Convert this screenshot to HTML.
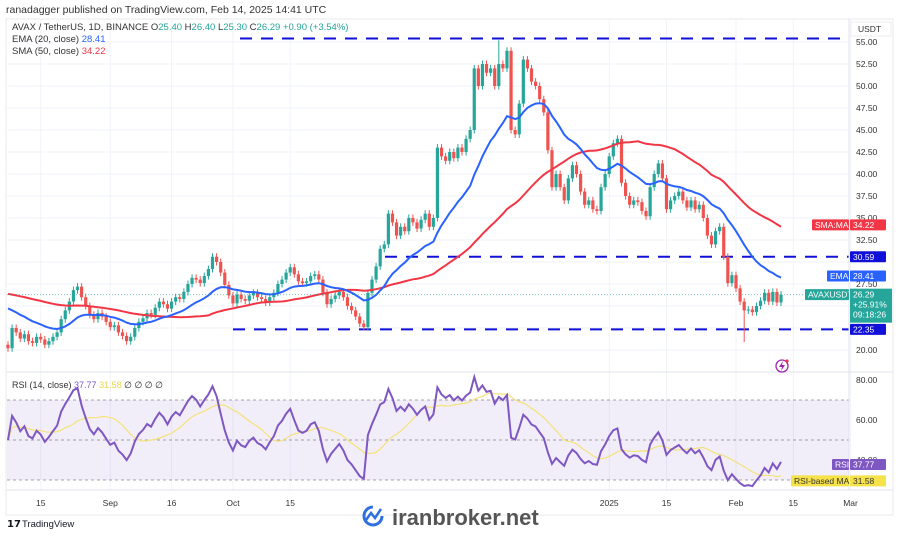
<!DOCTYPE html>
<html><head><meta charset="utf-8">
<style>
html,body{margin:0;padding:0;background:#fff;}
body{width:900px;height:535px;overflow:hidden;font-family:"Liberation Sans","DejaVu Sans",sans-serif;}
svg text{font-family:"Liberation Sans","DejaVu Sans",sans-serif;}
</style></head>
<body>
<svg id="chart" width="900" height="535" viewBox="0 0 900 535" xmlns="http://www.w3.org/2000/svg">
<text x="6" y="13" font-size="10.5" fill="#333">ranadagger published on TradingView.com, Feb 14, 2025 14:41 UTC</text>
<rect x="6" y="19" width="887" height="496" fill="none" stroke="#e8e8ea"/>
<g id="grid"></g>
<rect x="7" y="400" width="842" height="80" fill="#7e57c2" fill-opacity="0.1"/>
<g id="levels"></g>
<g id="candles"></g>
<g id="lines"></g>
<g id="rsi"></g>
<line x1="7" y1="372" x2="893" y2="372" stroke="#e0e3eb"/>
<line x1="849" y1="19" x2="849" y2="490" stroke="#e0e3eb"/>
<line x1="7" y1="490" x2="893" y2="490" stroke="#e0e3eb"/>
<g id="axis"></g>
<g font-size="9.5">
<text x="12" y="30" fill="#333">AVAX / TetherUS, 1D, BINANCE  O<tspan fill="#26a69a">25.40</tspan> H<tspan fill="#26a69a">26.40</tspan> L<tspan fill="#26a69a">25.30</tspan> C<tspan fill="#26a69a">26.29</tspan> <tspan fill="#26a69a">+0.90 (+3.54%)</tspan></text>
<text x="12" y="42" fill="#333">EMA (20, close) <tspan fill="#2962ff">28.41</tspan></text>
<text x="12" y="54" fill="#333">SMA (50, close) <tspan fill="#f23645">34.22</tspan></text>
<text x="12" y="388" fill="#333" font-size="9">RSI (14, close) <tspan fill="#7e57c2">37.77</tspan> <tspan fill="#e8d54a">31.58</tspan> ∅ ∅ ∅ ∅</text>
</g>
<rect x="851" y="22" width="40" height="14" fill="#fff" stroke="#eee"/>
<text x="858" y="32" font-size="8.5" fill="#333">USDT</text>
<g><circle cx="782" cy="366" r="6" fill="none" stroke="#9c27b0" stroke-width="1.3"/><path d="M783 361 L779 367 L782 367 L781 371 L785 365 L782 365 Z" fill="#9c27b0"/><circle cx="787" cy="361" r="1.6" fill="#f23645"/></g>
<g><text x="7" y="527" font-size="10" fill="#131722" font-weight="bold">𝟭𝟳</text><text x="22" y="527" font-size="9.5" fill="#131722">TradingView</text></g>
<g>
<circle cx="373" cy="516" r="9" fill="none" stroke="#2f6fe0" stroke-width="3" stroke-dasharray="42 15"/>
<path d="M366 520 L371 513 L375 518 L381 509" fill="none" stroke="#2f6fe0" stroke-width="2.5"/>
<text x="392" y="525" font-size="22" font-weight="bold" fill="#555" font-family="DejaVu Sans, sans-serif">iranbroker.net</text>
</g>
</svg>
<script>
const closes=[20.2,22.5,22.0,21.3,21.8,21.0,20.8,21.5,
21.2,20.6,21.0,21.5,22.0,23.5,24.5,25.5,26.8,27.2,
26.0,25.0,24.0,23.5,24.2,23.8,23.2,22.6,22.8,22.0,
21.6,21.0,21.5,22.5,23.2,23.6,24.2,24.0,24.8,25.5,
25.2,24.7,25.5,26.0,25.8,26.6,27.5,28.2,28.0,27.6,
28.4,29.2,30.6,30.0,28.8,27.4,26.2,25.3,26.3,25.8,
25.6,26.2,26.5,26.0,25.8,25.4,26.0,26.5,27.5,28.0,
28.8,29.4,28.6,27.8,27.6,27.8,28.4,28.6,28.0,26.5,
25.2,25.8,26.2,26.6,26.0,25.0,24.5,23.8,23.0,22.6,
26.5,28.0,29.5,31.5,32.0,35.5,34.5,33.0,34.0,
33.5,35.0,34.5,33.8,34.8,35.5,34.0,35.0,43.0,42.0,
41.5,42.5,41.8,43.0,42.5,44.0,45.0,52.0,50.0,
52.5,51.5,52.0,50.0,52.5,52.0,54.0,45.0,44.5,48.0,
53.0,52.0,50.5,50.0,48.5,47.0,42.7,38.5,40.0,38.5,
37.0,39.5,41.0,40.0,38.0,36.5,37.0,36.0,35.8,38.5,
40.0,42.0,43.5,44.0,39.0,37.5,36.5,37.0,36.8,35.8,
35.2,38.5,40.0,41.2,39.5,36.0,37.0,37.5,38.0,37.0,
36.2,37.0,36.0,36.5,35.0,33.0,32.0,33.5,34.0,30.6,
27.6,28.5,27.0,25.5,24.5,24.6,24.3,25.0,25.6,
26.5,25.5,26.6,25.4,26.29];
const wickUp=[55.2];
const wickUpIdx=[120];
const wickDn=[20.9];
const wickDnIdx=[180];
const priceTicks=[55,52.5,50,47.5,45,42.5,40,37.5,35,32.5,27.5,25,22.5,20];
const rsiTicks=[80,60,40];
const dateLabels=["15","Sep","16","Oct","15","2025","15","Feb","15","Mar"];
const dateIdx=[8,25,40,55,69,147,161,178,192,206];
const levelPrices=[55.4,30.59,22.35];
const levelStart=[240,385,233];

const NS="http://www.w3.org/2000/svg";
const N=closes.length;
const X0=8,X1=781;
const step=(X1-X0)/(N-1);
function x(i){return X0+i*step;}
function y(p){return 42+(55-p)*8.8;}
function yr(r){return 380+(80-r)*2;}
function mk(tag,attrs,parent){const e=document.createElementNS(NS,tag);for(const k in attrs)e.setAttribute(k,attrs[k]);parent.appendChild(e);return e;}
const G=id=>document.getElementById(id);

priceTicks.concat([30]).forEach(p=>{const l=mk('line',{x1:7,x2:849,y1:y(p),y2:y(p),stroke:'#f0f3fa'},G('grid'));

});
dateIdx.forEach(i=>{const l=mk('line',{x1:x(i),x2:x(i),y1:19,y2:490,stroke:'#f0f3fa'},G('grid'));

});
[70,50,30].forEach(r=>{const l=mk('line',{x1:7,x2:849,y1:yr(r),y2:yr(r),stroke:'#888','stroke-dasharray':'3 3','stroke-width':0.8},G('grid'));

});

levelPrices.forEach((p,k)=>{const l=mk('line',{x1:levelStart[k],x2:849,y1:y(p),y2:y(p),stroke:'#1010d8','stroke-width':2,'stroke-dasharray':'12 9'},G('levels'));

});

for(let i=0;i<N;i++){
 const c=closes[i],o=i?closes[i-1]:20.6;
 let h=Math.max(o,c)+0.4,lo=Math.min(o,c)-0.4;
 const u=wickUpIdx.indexOf(i); if(u>=0)h=wickUp[u];
 const d=wickDnIdx.indexOf(i); if(d>=0)lo=wickDn[d];
 const col=c>=o?'#26a69a':'#ef5350';
 const g=mk('g',{},G('candles'));
 
 
 mk('line',{x1:x(i),x2:x(i),y1:y(h),y2:y(lo),stroke:col,'stroke-width':1},g);
 const top=y(Math.max(o,c)),bh=Math.max(1,Math.abs(y(o)-y(c)));
 mk('rect',{x:x(i)-1.6,y:top,width:3.2,height:bh,fill:col},g);
}

const ema=[];let e=25.2;const a=2/21;
closes.forEach(c=>{e=c*a+e*(1-a);ema.push(e);});
const sma=closes.map((c,i)=>{let s=0;for(let k=i-49;k<=i;k++)s+=k>=0?closes[k]:26.5;return s/50;});
function path(arr,fy){return arr.map((v,i)=>(i?'L':'M')+x(i).toFixed(1)+' '+fy(v).toFixed(1)).join(' ');}
const sp=mk('path',{d:path(sma,y),fill:'none',stroke:'#f23645','stroke-width':2},G('lines'));


const ep=mk('path',{d:path(ema,y),fill:'none',stroke:'#2962ff','stroke-width':2},G('lines'));


const cl=mk('line',{x1:7,x2:849,y1:y(26.29),y2:y(26.29),stroke:'#26a69a','stroke-dasharray':'1 2','stroke-opacity':0.6},G('lines'));



let ag=0.3,al=0.3;const rsi=[];
closes.forEach((c,i)=>{const ch=i?c-closes[i-1]:0;ag=(ag*13+Math.max(ch,0))/14;al=(al*13+Math.max(-ch,0))/14;rsi.push(100-100/(1+ag/al));});
const rma=rsi.map((v,i)=>{let s=0,n=0;for(let k=Math.max(0,i-13);k<=i;k++){s+=rsi[k];n++;}return s/n;});
const rm=mk('path',{d:path(rma,yr),fill:'none',stroke:'#f5e27a','stroke-width':1.2},G('rsi'));


const rl=mk('path',{d:path(rsi,yr),fill:'none',stroke:'#7e57c2','stroke-width':2},G('rsi'));



priceTicks.forEach(p=>{const t=mk('text',{x:856,y:y(p)+3,'font-size':8.5,fill:'#333'},G('axis'));t.textContent=p.toFixed(2);

});
rsiTicks.forEach(r=>{const t=mk('text',{x:856,y:yr(r)+3,'font-size':8.5,fill:'#333'},G('axis'));t.textContent=r.toFixed(2);

});
dateLabels.forEach((s,k)=>{const t=mk('text',{x:x(dateIdx[k]),y:506,'font-size':8.5,fill:'#333','text-anchor':'middle'},G('axis'));t.textContent=s;

});

function tag(xl,yc,w,h,fill,txt,name,tc){const g=mk('g',{},G('axis'));


mk('rect',{x:xl,y:yc-h/2,width:w,height:h,fill:fill,rx:1},g);
const t=mk('text',{x:xl+3,y:yc+3,'font-size':8.5,fill:tc||'#fff'},g);t.textContent=txt;return g;}
tag(812,y(34.22),37,11,'#f23645','SMA:MA','sma-label');
tag(850,y(34.22),36,11,'#f23645','34.22','sma-value-tag');
tag(850,y(30.59),36,11,'#1010d8','30.59','level-tag-3059');
tag(827,y(28.41),22,11,'#2962ff','EMA','ema-label');
tag(850,y(28.41),36,11,'#2962ff','28.41','ema-value-tag');
tag(805,y(26.29),44,11,'#26a69a','AVAXUSDT','symbol-label');
const pg=mk('g',{},G('axis'));


mk('rect',{x:850,y:y(26.29)-6,width:42,height:34,fill:'#26a69a'},pg);
[['26.29',0],['+25.91%',10],['09:18:26',20]].forEach(([s,dy])=>{const t=mk('text',{x:853,y:y(26.29)+3+dy,'font-size':8.5,fill:'#fff'},pg);t.textContent=s;});
tag(850,y(22.35),36,11,'#1010d8','22.35','level-tag-2235');
tag(850,yr(37.77),36,11,'#7e57c2','37.77','rsi-value-tag');
tag(832,yr(37.77),17,11,'#7e57c2','RSI','rsi-label');
tag(850,yr(31.58)+4,36,11,'#f5e14a','31.58','rsi-ma-value-tag','#333');
tag(791,yr(31.58)+4,58,11,'#f5e14a','RSI-based MA','rsi-ma-label','#333');
</script>
</body></html>
